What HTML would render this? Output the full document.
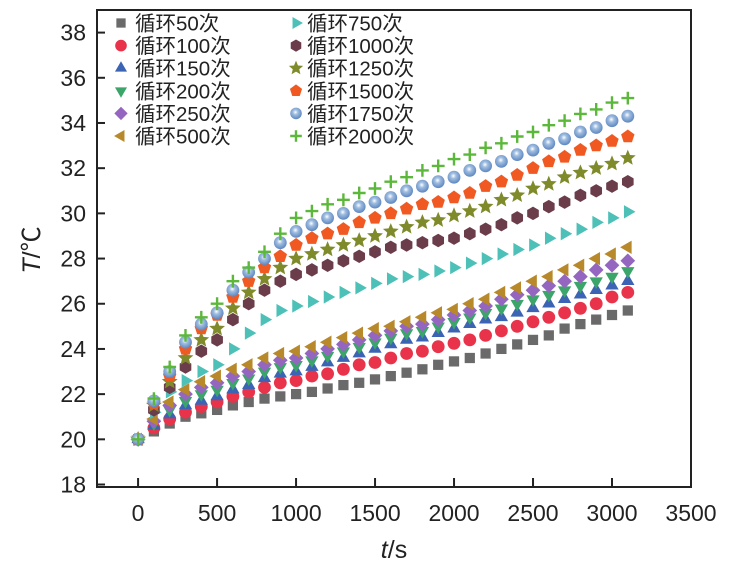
<!DOCTYPE html>
<html><head><meta charset="utf-8"><style>
body{margin:0;background:#fff;}
svg{display:block;font-family:"Liberation Sans","Noto Sans CJK SC",sans-serif;}
</style></head><body>
<svg id="chart" width="730" height="572" viewBox="0 0 730 572"></svg>
<script>
const times=[0,100,200,300,400,500,600,700,800,900,1000,1100,1200,1300,1400,1500,1600,1700,1800,1900,2000,2100,2200,2300,2400,2500,2600,2700,2800,2900,3000,3100];
const seriesNames=["循环50次","循环100次","循环150次","循环200次","循环250次","循环500次","循环750次","循环1000次","循环1250次","循环1500次","循环1750次","循环2000次"];
const s50=[20,20.35,20.7,21.0,21.15,21.3,21.5,21.65,21.8,21.9,22.0,22.1,22.25,22.4,22.5,22.65,22.8,22.95,23.1,23.3,23.45,23.6,23.8,24.0,24.2,24.4,24.6,24.9,25.1,25.3,25.5,25.7];
const s100=[20,20.5,20.9,21.2,21.45,21.65,21.9,22.1,22.3,22.5,22.6,22.8,22.9,23.1,23.3,23.4,23.6,23.8,23.9,24.1,24.25,24.4,24.6,24.8,25.0,25.2,25.4,25.6,25.8,26.0,26.3,26.5];
const s150=[20,20.6,21.1,21.5,21.7,21.9,22.2,22.4,22.7,22.9,23.0,23.2,23.4,23.6,23.8,24.0,24.2,24.4,24.5,24.7,24.9,25.1,25.3,25.4,25.6,25.8,26.0,26.2,26.4,26.6,26.8,27.0];
const s200=[20,20.7,21.3,21.7,22.0,22.2,22.5,22.7,23.0,23.2,23.3,23.5,23.7,23.9,24.1,24.3,24.5,24.7,24.8,25.0,25.2,25.4,25.6,25.8,26.0,26.2,26.4,26.6,26.8,27.0,27.2,27.45];
const s250=[20,20.8,21.5,22.0,22.3,22.5,22.8,23.0,23.3,23.5,23.6,23.8,24.0,24.2,24.4,24.6,24.8,25.0,25.1,25.3,25.5,25.7,25.9,26.2,26.4,26.6,26.8,27.0,27.2,27.5,27.7,27.9];
const s500=[20,20.9,21.65,22.2,22.55,22.8,23.1,23.3,23.6,23.8,23.9,24.1,24.3,24.5,24.7,24.9,25.0,25.2,25.4,25.6,25.75,26.0,26.2,26.5,26.7,27.0,27.2,27.5,27.7,28.0,28.2,28.5];
const s750=[20,21.2,22.1,22.6,23.0,23.3,24.0,24.7,25.3,25.7,25.9,26.1,26.3,26.5,26.7,26.9,27.1,27.2,27.3,27.45,27.6,27.8,28.0,28.2,28.4,28.6,28.9,29.1,29.3,29.6,29.8,30.07];
const s1000=[20,21.3,22.3,23.2,23.9,24.4,25.3,26.0,26.6,27.0,27.3,27.5,27.7,27.9,28.1,28.3,28.5,28.6,28.7,28.8,28.9,29.1,29.3,29.5,29.8,30.0,30.3,30.5,30.8,31.0,31.2,31.4];
const s1250=[20,21.5,22.55,23.6,24.4,24.9,25.8,26.5,27.1,27.6,28.0,28.2,28.4,28.6,28.8,29.0,29.2,29.4,29.6,29.7,29.9,30.1,30.3,30.6,30.8,31.1,31.3,31.6,31.8,32.0,32.2,32.45];
const s1500=[20,21.6,22.8,24.0,24.9,25.5,26.3,27.0,27.6,28.1,28.6,28.9,29.1,29.3,29.6,29.8,30.0,30.2,30.4,30.5,30.7,30.9,31.2,31.4,31.7,32.0,32.3,32.5,32.8,33.0,33.2,33.4];
const s1750=[20,21.7,23.0,24.3,25.1,25.6,26.6,27.4,28.0,28.7,29.2,29.5,29.8,30.0,30.3,30.5,30.7,31.0,31.2,31.4,31.6,31.9,32.1,32.3,32.6,32.8,33.1,33.3,33.6,33.8,34.1,34.3];
const s2000=[20,21.8,23.2,24.6,25.4,26.0,27.0,27.6,28.3,29.1,29.8,30.1,30.4,30.6,30.9,31.1,31.4,31.6,31.9,32.1,32.4,32.6,32.9,33.1,33.4,33.6,33.9,34.1,34.4,34.6,34.9,35.1];
const xTicks=[0,500,1000,1500,2000,2500,3000,3500];
const yTicks=[18,20,22,24,26,28,30,32,34,36,38];

const NS="http://www.w3.org/2000/svg";
const svg=document.getElementById('chart');
const L=97,R=691,T=10,B=487;
const xMin=-260,xMax=3500,yMin=17.89,yMax=39;
function sx(v){return L+(v-xMin)/(xMax-xMin)*(R-L);}
function sy(v){return B-(v-yMin)/(yMax-yMin)*(B-T);}
function mk(tag,attrs,parent){const e=document.createElementNS(NS,tag);for(const k in attrs)e.setAttribute(k,attrs[k]);(parent||svg).appendChild(e);return e;}

const defs=mk('defs',{});
const rg=mk('radialGradient',{id:'ball',cx:'0.45',cy:'0.4',r:'0.6'},defs);
const st1=mk('stop',{offset:'0'},rg);st1.setAttribute('stop-color','#ffffff');
const st2=mk('stop',{offset:'0.35'},rg);st2.setAttribute('stop-color','#9fbde0');
const st3=mk('stop',{offset:'1'},rg);st3.setAttribute('stop-color','#5d86c0');

const colors=["#6a6a6a","#e8334a","#3c64b4","#3ca56a","#9466c0","#b8892a","#4dc0b8","#6b3d4b","#7f8a2a","#f05a22","url(#ball)","#5cb83a"];
const shapes=["square","circle","up","down","diamond","left","right","hex","star","pent","ball","plus"];
const allSeries=[s50,s100,s150,s200,s250,s500,s750,s1000,s1250,s1500,s1750,s2000];

function poly(n,r,rot){let p=[];for(let i=0;i<n;i++){const a=rot+i*2*Math.PI/n;p.push((r*Math.cos(a)).toFixed(2)+','+(r*Math.sin(a)).toFixed(2));}return p.join(' ');}
function star(r){let p=[];for(let i=0;i<10;i++){const a=-Math.PI/2+i*Math.PI/5;const rr=i%2?r*0.45:r;p.push((rr*Math.cos(a)).toFixed(2)+','+(rr*Math.sin(a)).toFixed(2));}return p.join(' ');}
function marker(g,shape,color,x,y,s){
  const t=mk('g',{transform:'translate('+x.toFixed(1)+','+y.toFixed(1)+')'},g);
  const r=s;
  if(shape==='square')mk('rect',{x:-r*0.8,y:-r*0.8,width:r*1.6,height:r*1.6,fill:color},t);
  else if(shape==='circle')mk('circle',{r:r,fill:color},t);
  else if(shape==='ball'){mk('circle',{r:r,fill:color},t);}
  else if(shape==='up')mk('polygon',{points:poly(3,r*1.2,-Math.PI/2),fill:color},t);
  else if(shape==='down')mk('polygon',{points:poly(3,r*1.2,Math.PI/2),fill:color},t);
  else if(shape==='left')mk('polygon',{points:poly(3,r*1.2,Math.PI),fill:color},t);
  else if(shape==='right')mk('polygon',{points:poly(3,r*1.2,0),fill:color},t);
  else if(shape==='diamond')mk('polygon',{points:poly(4,r*1.15,0),fill:color},t);
  else if(shape==='hex')mk('polygon',{points:poly(6,r*1.05,Math.PI/6),fill:color},t);
  else if(shape==='pent')mk('polygon',{points:poly(5,r*1.1,-Math.PI/2),fill:color},t);
  else if(shape==='star')mk('polygon',{points:star(r*1.3),fill:color},t);
  else if(shape==='plus'){mk('path',{d:'M'+(-r)+',0H'+r+'M0,'+(-r)+'V'+r,stroke:color,'stroke-width':2.4,fill:'none'},t);}
  return t;
}

const frame=mk('rect',{x:L,y:T,width:R-L,height:B-T,fill:'none',stroke:'#222','stroke-width':2});



const xAxis=mk('g',{});


xTicks.forEach(v=>{
  const x=sx(v);
  mk('line',{x1:x,x2:x,y1:B,y2:B-9,stroke:'#222','stroke-width':2},xAxis);
  const tx=mk('text',{x:x,y:521,'text-anchor':'middle','font-size':23,fill:'#222'},xAxis);
  tx.textContent=v;
  
  
});
const yAxis=mk('g',{});


yTicks.forEach(v=>{
  const y=sy(v);
  mk('line',{x1:L,x2:L+8,y1:y,y2:y,stroke:'#222','stroke-width':2},yAxis);
  const tx=mk('text',{x:86,y:y+8,'text-anchor':'end','font-size':23,fill:'#222'},yAxis);
  tx.textContent=v;
  
  
});

const xt=mk('text',{x:394,y:558,'text-anchor':'middle','font-size':25,fill:'#222'});
xt.innerHTML='<tspan font-style="italic">t</tspan>/s';


const yt=mk('text',{x:0,y:0,'text-anchor':'middle','font-size':25,fill:'#222',transform:'translate(40,250) rotate(-90)'});
yt.innerHTML='<tspan font-style="italic">T</tspan>/℃';



allSeries.forEach((vals,i)=>{
  const g=mk('g',{});
  
  
  const n=Math.min(vals.length,times.length);
  for(let k=0;k<n;k++){
    const m=marker(g,shapes[i],colors[i],sx(times[k]),sy(vals[k]),6.4);
    
    
  }
});

const lg=mk('g',{});


seriesNames.forEach((nm,i)=>{
  const col=i<6?0:1,row=i%6;
  const mx=col?296:121, tx=col?307:135, y=23+row*22.6;
  const e=mk('g',{},lg);
  
  
  marker(e,shapes[i],colors[i],mx,y,5.8);
  const t=mk('text',{x:tx,y:y+7.5,'font-size':20.5,fill:'#222'},e);
  t.textContent=nm;
});
</script>
</body></html>
